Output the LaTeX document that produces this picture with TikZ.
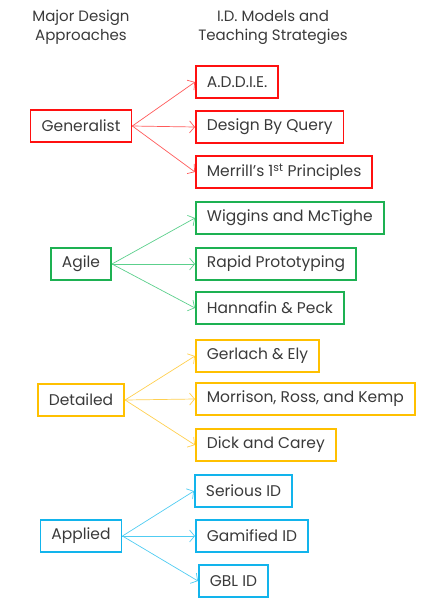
\documentclass[tikz,border=0pt]{standalone}
\usepackage{fontspec}
\setmainfont{Poppins}
\usetikzlibrary{arrows.meta}

\definecolor{textgray}{HTML}{3A3A3A}
\definecolor{genred}{HTML}{FF1010}
\definecolor{genredlight}{HTML}{FF5A5A}
\definecolor{agilegreen}{HTML}{1DB152}
\definecolor{agilegreenlight}{HTML}{5CD08C}
\definecolor{detyellow}{HTML}{FFC000}
\definecolor{detyellowlight}{HTML}{FFD050}
\definecolor{appblue}{HTML}{12B4EC}
\definecolor{appbluelight}{HTML}{50CCF2}

\tikzstyle{heading} = [text=textgray, align=center, font=\fontsize{15}{19}\selectfont]
\tikzstyle{approach} = [rectangle, draw, line width=1.8pt, minimum height=32pt, inner xsep=11pt, text=textgray, font=\fontsize{15.5}{17}\selectfont]
\tikzstyle{model} = [approach, anchor=west]
\tikzstyle{link} = [line width=0.7pt, -{Straight Barb[length=5pt,width=12pt]}]

\begin{document}
\begin{tikzpicture}[x=1pt, y=-1pt]
        \useasboundingbox (0,0) rectangle (421,600);

        % Headings
        \node (headA) [heading] at (81,27) {Major Design\\Approaches};
        \node (headB) [heading] at (273,27) {I.D. Models and\\Teaching Strategies};

        % Generalist
        \node (gen) [approach, draw=genred] at (81,126) {Generalist};
        \node (addie) [model, draw=genred] at (195,82) {A.D.D.I.E.};
        \node (query) [model, draw=genred] at (195,127) {Design By Query};
        \node (merrill) [model, draw=genred] at (195,172) {Merrill's 1\textsuperscript{st} Principles};

        % Agile
        \node (agile) [approach, draw=agilegreen] at (81,264) {Agile};
        \node (wiggins) [model, draw=agilegreen] at (195,218) {Wiggins and McTighe};
        \node (rapid) [model, draw=agilegreen] at (195,264) {Rapid Prototyping};
        \node (hannafin) [model, draw=agilegreen] at (195,308) {Hannafin \& Peck};

        % Detailed
        \node (detail) [approach, draw=detyellow] at (81,400) {Detailed};
        \node (gerlach) [model, draw=detyellow] at (195,356) {Gerlach \& Ely};
        \node (morrison) [model, draw=detyellow] at (195,399) {Morrison, Ross, and Kemp};
        \node (dick) [model, draw=detyellow] at (195,445) {Dick and Carey};

        % Applied
        \node (applied) [approach, draw=appblue] at (81,536) {Applied};
        \node (serious) [model, draw=appblue] at (194,491) {Serious ID};
        \node (gamified) [model, draw=appblue] at (195,536) {Gamified ID};
        \node (gbl) [model, draw=appblue] at (198,581) {GBL ID};

        % Arrows
        \draw [link, genredlight] (gen.east) -- (addie.west);
        \draw [link, genredlight] (gen.east) -- (query.west);
        \draw [link, genredlight] (gen.east) -- (merrill.west);
        \draw [link, agilegreenlight] (agile.east) -- (wiggins.west);
        \draw [link, agilegreenlight] (agile.east) -- (rapid.west);
        \draw [link, agilegreenlight] (agile.east) -- (hannafin.west);
        \draw [link, detyellowlight] (detail.east) -- (gerlach.west);
        \draw [link, detyellowlight] (detail.east) -- (morrison.west);
        \draw [link, detyellowlight] (detail.east) -- (dick.west);
        \draw [link, appbluelight] (applied.east) -- (serious.west);
        \draw [link, appbluelight] (applied.east) -- (gamified.west);
        \draw [link, appbluelight] (applied.east) -- (gbl.west);
    \end{tikzpicture}
\end{document}
